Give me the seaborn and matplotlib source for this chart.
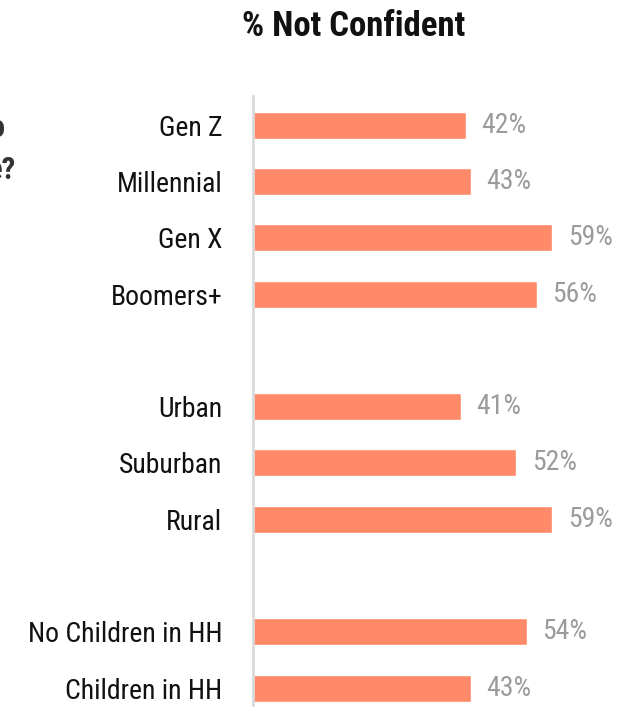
import numpy as np
import pandas as pd
import seaborn as sns
import matplotlib.pyplot as plt

# survey groups, % not confident
age_groups = ['Gen Z', 'Millennial', 'Gen X', 'Boomers+']
age_values = [42, 43, 59, 56]
area_groups = ['Urban', 'Suburban', 'Rural']
area_values = [41, 52, 59]
kid_groups = ['No Children in HH', 'Children in HH']
kid_values = [54, 43]

title = '% Not Confident'
bar_color = '#FF8A6A'
value_color = '#9B9B9B'

sns.set_theme(style='white')
plt.rcParams['font.family'] = ['Roboto Condensed', 'Liberation Sans Narrow', 'DejaVu Sans']
plt.rcParams['font.stretch'] = 'condensed'

# spacer rows between the three blocks
order = age_groups + ['_gap1'] + area_groups + ['_gap2'] + kid_groups
df = pd.DataFrame({
    'group': age_groups + area_groups + kid_groups,
    'value': age_values + area_values + kid_values,
})

fig = plt.figure(figsize=(6.31, 7.10), dpi=100)
ax = fig.add_axes([0.401, 0.007, 0.599, 0.858])

sns.barplot(data=df, x='value', y='group', order=order, color=bar_color,
            width=0.48, saturation=1, ax=ax)

ax.set_xlim(0, 74.6)
ax.set_ylim(len(order) - 0.7, -0.52)
ax.set_xlabel('')
ax.set_ylabel('')
ax.set_xticks([])
ax.set_yticks(range(len(order)))
ax.set_yticklabels(['' if o.startswith('_') else o for o in order],
                   fontsize=20, color='#111111')
ax.tick_params(axis='y', length=0, pad=22)

for s in ['top', 'right', 'bottom']:
    ax.spines[s].set_visible(False)
ax.spines['left'].set_color('#D9D9D9')
ax.spines['left'].set_linewidth(2)

for g, v in zip(df['group'], df['value']):
    ax.text(v + 3.1, order.index(g), f'{v}%', va='center', ha='left',
            fontsize=20, color=value_color)

fig.text(0.56, 0.963, title, ha='center', va='center', fontsize=25,
         fontweight='bold', color='#111111')
# cut-off question text from the neighbouring panel
fig.text(0.008, 0.807, 'o', ha='right', va='baseline', fontsize=22,
         fontweight='bold', color='#333333')
fig.text(0.025, 0.748, 'e?', ha='right', va='baseline', fontsize=22,
         fontweight='bold', color='#333333')

fig.savefig('out.png', dpi=100)
